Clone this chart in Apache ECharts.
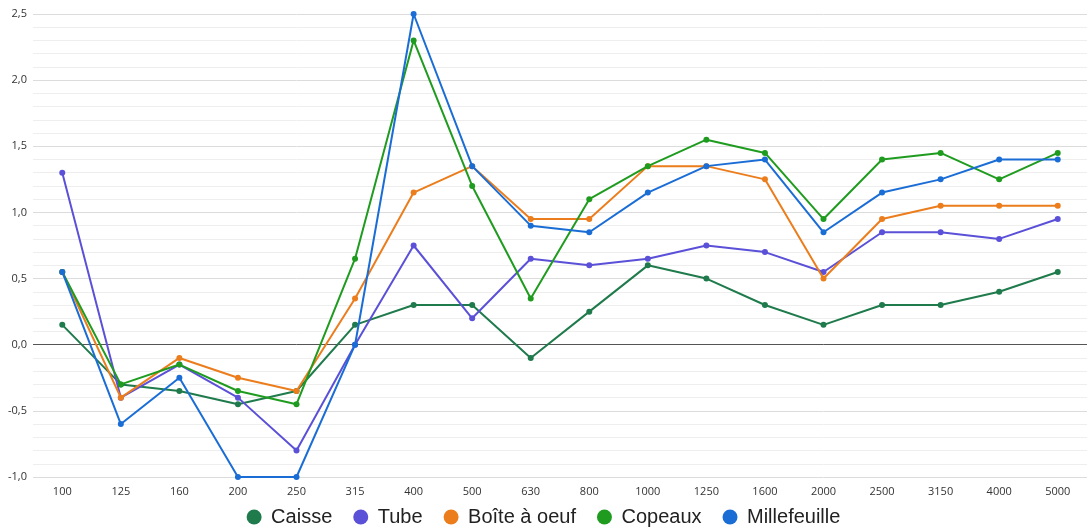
<!DOCTYPE html>
<html>
<head>
<meta charset="utf-8">
<script src="https://cdn.jsdelivr.net/npm/echarts@6/dist/echarts.min.js"></script>
<style>
  html, body { margin: 0; padding: 0; background: #fff; }
  #chart { width: 1087px; height: 531px; }
</style>
</head>
<body>
<div id="chart"></div>
<script>
// Frequency bands (Hz)
const categories = ['100','125','160','200','250','315','400','500','630','800','1000','1250','1600','2000','2500','3150','4000','5000'];

const caisse       = [0.15, -0.3, -0.35, -0.45, -0.35, 0.15, 0.3, 0.3, -0.1, 0.25, 0.6, 0.5, 0.3, 0.15, 0.3, 0.3, 0.4, 0.55];
const tube         = [1.3, -0.4, -0.15, -0.4, -0.8, 0.0, 0.75, 0.2, 0.65, 0.6, 0.65, 0.75, 0.7, 0.55, 0.85, 0.85, 0.8, 0.95];
const boiteAOeuf   = [0.55, -0.4, -0.1, -0.25, -0.35, 0.35, 1.15, 1.35, 0.95, 0.95, 1.35, 1.35, 1.25, 0.5, 0.95, 1.05, 1.05, 1.05];
const copeaux      = [0.55, -0.3, -0.15, -0.35, -0.45, 0.65, 2.3, 1.2, 0.35, 1.1, 1.35, 1.55, 1.45, 0.95, 1.4, 1.45, 1.25, 1.45];
const millefeuille = [0.55, -0.6, -0.25, -1.0, -1.0, 0.0, 2.5, 1.35, 0.9, 0.85, 1.15, 1.35, 1.4, 0.85, 1.15, 1.25, 1.4, 1.4];

const seriesDefs = [
  { name: 'Caisse', data: caisse, color: '#1f7a4c' },
  { name: 'Tube', data: tube, color: '#5b50d8' },
  { name: 'Boîte à oeuf', data: boiteAOeuf, color: '#ec7d1c' },
  { name: 'Copeaux', data: copeaux, color: '#1f9c1f' },
  { name: 'Millefeuille', data: millefeuille, color: '#1b6dd6' }
];

const chart = echarts.init(document.getElementById('chart'), null, { renderer: 'canvas' });

const series = seriesDefs.map((s, i) => ({
  name: s.name,
  type: 'line',
  data: s.data,
  symbol: 'circle',
  symbolSize: 6,
  showSymbol: true,
  lineStyle: { width: 2, color: s.color },
  itemStyle: { color: s.color },
  z: 3 + i,
  // dark reference line at zero, drawn once
  markLine: i === 0 ? {
    silent: true,
    symbol: ['none', 'none'],
    label: { show: false },
    lineStyle: { color: '#555', width: 1, type: 'solid' },
    data: [{ yAxis: 0 }],
    z: 2
  } : undefined
}));

chart.setOption({
  animation: false,
  textStyle: { fontFamily: '"Open Sans", "Noto Sans", sans-serif' },
  grid: { left: 33, right: -1, top: 14, bottom: 54, containLabel: false },
  legend: {
    bottom: -1,
    left: 'center',
    icon: 'circle',
    itemWidth: 24,
    itemHeight: 15,
    itemGap: 21,
    textStyle: { fontFamily: '"Liberation Sans", Arial, sans-serif', fontSize: 20, color: '#222' },
    data: seriesDefs.map(s => s.name)
  },
  xAxis: {
    type: 'category',
    data: categories,
    boundaryGap: true,
    axisLine: { show: false },
    axisTick: { show: false },
    axisLabel: { color: '#333', fontSize: 11, margin: 9 },
    splitLine: { show: false }
  },
  yAxis: {
    type: 'value',
    min: -1,
    max: 2.5,
    interval: 0.5,
    axisLine: { show: false },
    axisTick: { show: false },
    axisLabel: {
      color: '#333',
      fontSize: 11,
      margin: 6,
      formatter: v => v.toFixed(1).replace('.', ',')
    },
    splitLine: { show: true, lineStyle: { color: '#dcdcdc', width: 1 } },
    minorTick: { show: false, splitNumber: 5 },
    minorSplitLine: { show: true, lineStyle: { color: '#eeeeee', width: 1 } }
  },
  series: series
});
</script>
</body>
</html>
